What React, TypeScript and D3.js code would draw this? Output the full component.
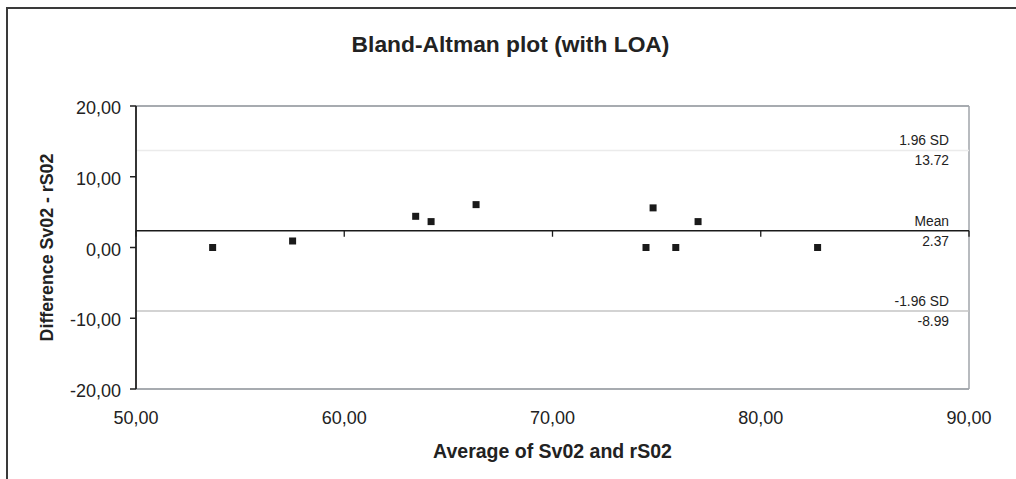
import React from 'react';
import * as d3 from 'd3';

// data
const averages = [53.68, 57.52, 63.43, 64.17, 66.33, 74.49, 74.83, 75.92, 76.99, 82.73];
const differences = [0, 0.92, 4.41, 3.66, 6.06, 0, 5.6, 0, 3.66, 0];
const xTicks = [50, 60, 70, 80, 90];
const yTicks = [-20, -10, 0, 10, 20];
const loaNames = ['1.96 SD', 'Mean', '-1.96 SD'];
const loaValues = [13.72, 2.37, -8.99];
const loaColors = ['#ebebeb', '#1a1a1a', '#c4c4c4'];

const W = 1016;
const H = 479;
const margin = { top: 106, right: 47, bottom: 90, left: 136 };
const font = 'Liberation Sans, Arial, sans-serif';

const fmt = (v: number) => v.toFixed(2).replace('.', ',');

export default function App() {
  const x = d3.scaleLinear().domain([50, 90]).range([margin.left, W - margin.right]);
  const y = d3.scaleLinear().domain([-20, 20]).range([H - margin.bottom, margin.top]);
  const points = averages.map((a, i) => ({ a, d: differences[i] }));
  const meanY = y(loaValues[1]);
  const labelX = 949;

  return (
    <svg width={W} height={H} style={{ position: 'absolute', left: 0, top: 0, background: '#fff' }}>
      {/* outer chart frame, runs off the right and bottom edges */}
      <rect x={7} y={8} width={W + 20} height={H + 20} fill="#fff" stroke="#3a3a3a" strokeWidth={2} />

      <text x={510.5} y={52} textAnchor="middle" fontFamily={font} fontWeight="bold" fontSize={22.8} fill="#222">
        Bland-Altman plot (with LOA)
      </text>

      {/* plot area border */}
      <line x1={x(50)} x2={x(90)} y1={y(20)} y2={y(20)} stroke="#8a8f96" strokeWidth={1.5} />
      <line x1={x(50)} x2={x(90)} y1={y(-20)} y2={y(-20)} stroke="#8a8f96" strokeWidth={1.5} />
      <line x1={x(90)} x2={x(90)} y1={y(20)} y2={y(-20)} stroke="#a0a4aa" strokeWidth={1.5} />

      {/* limits of agreement */}
      {loaValues.map((v, i) => (
        <g key={loaNames[i]}>
          <line x1={x(50)} x2={x(90)} y1={y(v)} y2={y(v)} stroke={loaColors[i]} strokeWidth={i === 1 ? 1.6 : 1.5} />
          <text x={labelX} y={y(v) - 5} textAnchor="end" fontFamily={font} fontSize={13.8} fill="#222">
            {loaNames[i]}
          </text>
          <text x={labelX} y={y(v) + 15} textAnchor="end" fontFamily={font} fontSize={13.8} fill="#222">
            {v.toFixed(2)}
          </text>
        </g>
      ))}

      {/* x tick marks hang off the mean line */}
      {xTicks.map((t) => (
        <line key={'xt' + t} x1={x(t)} x2={x(t)} y1={meanY} y2={meanY + 6} stroke="#1a1a1a" strokeWidth={1.3} />
      ))}

      {/* y axis */}
      <line x1={x(50)} x2={x(50)} y1={y(20)} y2={y(-20)} stroke="#1f1f1f" strokeWidth={1.8} />
      {yTicks.map((t) => (
        <g key={'yt' + t}>
          <line x1={x(50) - 6} x2={x(50)} y1={y(t)} y2={y(t)} stroke="#1f1f1f" strokeWidth={1.5} />
          <text x={121} y={y(t) + 8} textAnchor="end" fontFamily={font} fontSize={18} fill="#222">
            {fmt(t)}
          </text>
        </g>
      ))}

      {xTicks.map((t) => (
        <text key={'xl' + t} x={x(t)} y={424} textAnchor="middle" fontFamily={font} fontSize={18} fill="#222">
          {fmt(t)}
        </text>
      ))}

      {/* data points */}
      {points.map((p, i) => (
        <rect key={i} x={x(p.a) - 3.5} y={y(p.d) - 3.5} width={7} height={7} fill="#1a1a1a" />
      ))}

      <text x={(x(50) + x(90)) / 2} y={458} textAnchor="middle" fontFamily={font} fontWeight="bold" fontSize={19.5} fill="#222">
        Average of Sv02 and rS02
      </text>
      <text
        transform={`translate(53,${(y(20) + y(-20)) / 2}) rotate(-90)`}
        textAnchor="middle"
        fontFamily={font}
        fontWeight="bold"
        fontSize={17.8}
        fill="#222"
      >
        Difference Sv02 - rS02
      </text>
    </svg>
  );
}
